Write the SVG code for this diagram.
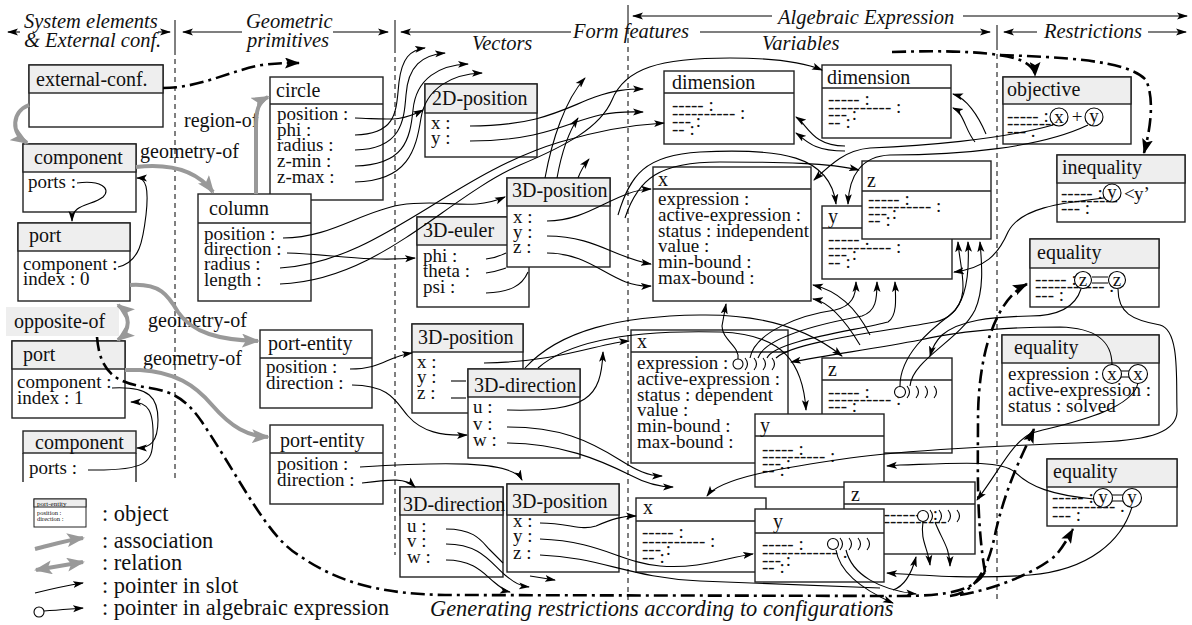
<svg xmlns="http://www.w3.org/2000/svg" width="1192" height="625" viewBox="0 0 1192 625" font-family="'Liberation Serif', 'Times New Roman', serif">
<defs>
<marker id="ah" markerUnits="userSpaceOnUse" markerWidth="11" markerHeight="8" refX="10" refY="4" orient="auto"><path d="M0,0.5 L11,4 L0,7.5 L2.5,4 z" fill="#000"/></marker>
<marker id="gh" markerUnits="userSpaceOnUse" markerWidth="18" markerHeight="14" refX="16" refY="7" orient="auto-start-reverse"><path d="M0,0 L18,7 L0,14 L4,7 z" fill="#999"/></marker>
<marker id="dh" markerUnits="userSpaceOnUse" markerWidth="15" markerHeight="11" refX="14" refY="5.5" orient="auto"><path d="M0,0 L15,5.5 L0,11 L3,5.5 z" fill="#000"/></marker>
</defs>
<style>
.bx{fill:#fff;stroke:#222;stroke-width:1.4}
.hd{fill:#eee;stroke:#222;stroke-width:1.4}
.dv{stroke:#222;stroke-width:1.4}
.ti,.at,.dr,.hi,.lg,.tn,.bt{font-family:'Liberation Serif','Times New Roman',serif;fill:#111}
.ti{font-size:20px}
.at{font-size:19px}
.dr{font-size:19px}
.hi{font-size:20.5px;font-style:italic}
.bt{font-size:22.4px;font-style:italic}
.lg{font-size:22.4px}
.mid{text-anchor:middle}
.c{fill:none;stroke:#000;stroke-width:1.1;marker-end:url(#ah)}
.s{fill:none;stroke:#000;stroke-width:1.1}
.g{fill:none;stroke:#999;stroke-width:4;marker-end:url(#gh)}
.dd{fill:none;stroke:#000;stroke-width:2.6;stroke-dasharray:14 5 3 5}
.dda{fill:none;stroke:#000;stroke-width:2.6;stroke-dasharray:14 5 3 5;marker-end:url(#dh)}
.vl{stroke:#000;stroke-width:1;stroke-dasharray:5 4}
.vs{stroke:#000;stroke-width:1}
.ha{stroke:#000;stroke-width:1.1;marker-end:url(#ah)}
.ci{fill:#fff;stroke:#000;stroke-width:1.1}
.ar{fill:none;stroke:#000;stroke-width:1.1}
</style>

<g id="headers">
<line class="vs" x1="175" y1="20" x2="175" y2="50"/><line class="vl" x1="175" y1="50" x2="175" y2="482"/>
<line class="vs" x1="395" y1="20" x2="395" y2="48"/><line class="vl" x1="395" y1="48" x2="395" y2="555"/>
<line class="vs" x1="628" y1="5" x2="628" y2="20"/><line class="vl" x1="628" y1="20" x2="628" y2="600"/>
<line class="vs" x1="997" y1="25" x2="997" y2="45"/><line class="vl" x1="997" y1="45" x2="997" y2="600"/>
<text class="hi" x="24" y="28">System elements</text>
<text class="hi" x="24" y="47">&amp; External conf.</text>
<line class="ha" x1="20" y1="32" x2="8" y2="32"/>
<line class="ha" x1="158" y1="32" x2="170" y2="32"/>
<text class="hi" x="246" y="28">Geometric</text>
<text class="hi" x="247" y="47">primitives</text>
<line class="ha" x1="242" y1="32" x2="183" y2="32"/>
<line class="ha" x1="333" y1="32" x2="388" y2="32"/>
<line class="ha" x1="571" y1="32" x2="401" y2="32"/>
<text class="hi" x="573" y="38">Form features</text>
<line class="ha" x1="700" y1="32" x2="990" y2="32"/>
<text class="hi" x="472" y="50">Vectors</text>
<text class="hi" x="762" y="50">Variables</text>
<line class="ha" x1="772" y1="16" x2="633" y2="16"/>
<text class="hi" x="778" y="24">Algebraic Expression</text>
<line class="ha" x1="963" y1="16" x2="1187" y2="16"/>
<line class="ha" x1="1037" y1="32" x2="1004" y2="32"/>
<text class="hi" x="1044" y="38">Restrictions</text>
<line class="ha" x1="1148" y1="32" x2="1186" y2="32"/>
<text class="bt" x="430" y="616">Generating restrictions according to configurations</text>
</g>

<g id="legend">
<rect class="bx" x="34" y="499" width="52" height="28" style="stroke-width:1"/>
<rect class="hd" x="34" y="499" width="52" height="8" style="stroke-width:1"/>
<text class="tn" x="37" y="506" style="font-size:7px">port-entity</text>
<text class="tn" x="37" y="515" style="font-size:6.5px">position :</text>
<text class="tn" x="37" y="521" style="font-size:6.5px">direction :</text>
<text class="lg" x="102" y="521">: object</text>
<text class="lg" x="102" y="548">: association</text>
<text class="lg" x="102" y="570">: relation</text>
<text class="lg" x="102" y="593">: pointer in slot</text>
<text class="lg" x="102" y="615">: pointer in algebraic expression</text>
<path class="g" d="M35,549 C55,544 68,540 83,538"/>
<path class="g" d="M36,570 L83,562" style="marker-start:url(#gh)"/>
<path class="c" d="M35,593 C55,588 70,585 83,583"/>
<circle class="ci" cx="39" cy="612" r="5"/>
<path class="c" d="M44,611 C60,610 70,609 83,608"/>
</g>

<g id="external-conf"><rect class="bx" x="29" y="65" width="134" height="62"/><rect class="hd" x="29" y="65" width="134" height="28"/><text class="ti" x="36" y="86">external-conf.</text></g>
<g id="component-1"><rect class="bx" x="23" y="144" width="113" height="68"/><rect class="hd" x="23" y="144" width="113" height="28"/><text class="ti" x="34" y="164">component</text><text class="at" x="28" y="188">ports :</text></g>
<g id="port-0"><rect class="bx" x="18" y="223" width="112" height="78"/><rect class="hd" x="18" y="223" width="112" height="28"/><text class="ti" x="29" y="242">port</text><text class="at" x="23" y="270">component :</text><text class="at" x="23" y="285">index : 0</text></g>
<g id="opposite-of"><rect x="6" y="307" width="113" height="29" fill="#eee"/><text class="ti" x="14" y="328">opposite-of</text></g>
<g id="port-1"><rect class="bx" x="12" y="341" width="113" height="77"/><rect class="hd" x="12" y="341" width="113" height="28"/><text class="ti" x="23" y="361">port</text><text class="at" x="17" y="388">component :</text><text class="at" x="17" y="404">index : 1</text></g>
<g id="component-2"><rect x="23" y="453" width="113" height="29" fill="#fff"/><path class="dv" d="M23,453 V482 M136,453 V482"/><rect class="hd" x="23" y="431" width="113" height="22"/><text class="ti" x="35" y="449">component</text><text class="at" x="29" y="474">ports :</text></g>

<g id="circle"><rect class="bx" x="270" y="77" width="113" height="123"/><line class="dv" x1="270" y1="104" x2="383" y2="104"/><text class="ti" x="276" y="97">circle</text><text class="at" x="277" y="120">position :</text><text class="at" x="277" y="136">phi :</text><text class="at" x="277" y="151">radius :</text><text class="at" x="277" y="167">z-min :</text><text class="at" x="277" y="183">z-max :</text></g>
<g id="column"><rect class="bx" x="198" y="194" width="113" height="107"/><line class="dv" x1="198" y1="223" x2="311" y2="223"/><text class="ti" x="209" y="215">column</text><text class="at" x="204" y="240">position :</text><text class="at" x="204" y="255">direction :</text><text class="at" x="204" y="270">radius :</text><text class="at" x="204" y="286">length :</text></g>
<g id="position-2d"><rect class="bx" x="425" y="84" width="112" height="73"/><rect class="hd" x="425" y="84" width="112" height="29"/><text class="ti" x="432" y="105">2D-position</text><text class="at" x="431" y="129">x :</text><text class="at" x="431" y="144">y :</text></g>
<g id="euler-3d"><rect class="bx" x="417" y="217" width="112" height="90"/><rect class="hd" x="417" y="217" width="112" height="28"/><text class="ti" x="423" y="237">3D-euler</text><text class="at" x="423" y="262">phi :</text><text class="at" x="423" y="277">theta :</text><text class="at" x="423" y="293">psi :</text></g>
<g id="position-3d-1"><rect class="bx" x="507" y="178" width="103" height="89"/><rect class="hd" x="507" y="178" width="103" height="28"/><text class="ti" x="512" y="197">3D-position</text><text class="at" x="513" y="223">x :</text><text class="at" x="513" y="238">y :</text><text class="at" x="513" y="253">z :</text></g>
<g id="port-entity-1"><rect class="bx" x="260" y="330" width="112" height="78"/><line class="dv" x1="260" y1="358" x2="372" y2="358"/><text class="ti" x="268" y="350">port-entity</text><text class="at" x="266" y="373">position :</text><text class="at" x="266" y="389">direction :</text></g>
<g id="position-3d-2"><rect class="bx" x="412" y="324" width="111" height="89"/><rect class="hd" x="412" y="324" width="111" height="28"/><text class="ti" x="418" y="344">3D-position</text><text class="at" x="417" y="368">x :</text><text class="at" x="417" y="383">y :</text><text class="at" x="417" y="399">z :</text></g>
<g id="direction-3d-1"><rect class="bx" x="468" y="369" width="112" height="89"/><rect class="hd" x="468" y="369" width="112" height="28"/><text class="ti" x="474" y="392">3D-direction</text><text class="at" x="473" y="413">u :</text><text class="at" x="473" y="430">v :</text><text class="at" x="473" y="446">w :</text></g>
<g id="port-entity-2"><rect class="bx" x="270" y="425" width="113" height="79"/><line class="dv" x1="270" y1="453" x2="383" y2="453"/><text class="ti" x="280" y="447">port-entity</text><text class="at" x="277" y="470">position :</text><text class="at" x="277" y="486">direction :</text></g>
<g id="direction-3d-2"><rect class="bx" x="400" y="487" width="103" height="90"/><rect class="hd" x="400" y="487" width="103" height="28"/><text class="ti" x="403" y="511">3D-direction</text><text class="at" x="407" y="532">u :</text><text class="at" x="407" y="547">v :</text><text class="at" x="407" y="563">w :</text></g>
<g id="position-3d-3"><rect class="bx" x="507" y="484" width="112" height="88"/><rect class="hd" x="507" y="484" width="112" height="31"/><text class="ti" x="512" y="508">3D-position</text><text class="at" x="513" y="527">x :</text><text class="at" x="513" y="542">y :</text><text class="at" x="513" y="559">z :</text></g>

<g id="dimension-1"><rect class="bx" x="664" y="71" width="130" height="73"/><line class="dv" x1="664" y1="93" x2="794" y2="93"/><text class="ti" x="672" y="89">dimension</text><text class="dr" x="672" y="111">----- :</text><text class="dr" x="672" y="119">---------- :</text><text class="dr" x="672" y="127">--- :</text><text class="dr" x="672" y="135">-- :</text></g>
<g id="dimension-2"><rect class="bx" x="822" y="65" width="129" height="73"/><line class="dv" x1="822" y1="88" x2="951" y2="88"/><text class="ti" x="827" y="84">dimension</text><text class="dr" x="828" y="105">----- :</text><text class="dr" x="828" y="113">---------- :</text><text class="dr" x="828" y="120">--- :</text><text class="dr" x="828" y="128">-- :</text></g>
<g id="objective"><rect class="bx" x="1003" y="77" width="128" height="67"/><rect class="hd" x="1003" y="77" width="128" height="27"/><text class="ti" x="1007" y="96">objective</text><text class="dr" x="1007" y="122">----- :</text><text class="dr" x="1007" y="129">---------</text><text class="dr" x="1007" y="137">--- .</text><circle class="ci" cx="1059" cy="117" r="9"/><text class="at mid" x="1059" y="123">x</text><text class="at mid" x="1077" y="123">+</text><circle class="ci" cx="1094" cy="117" r="9"/><text class="at mid" x="1094" y="122">y</text></g>
<g id="inequality"><rect class="bx" x="1057" y="155" width="128" height="67"/><rect class="hd" x="1057" y="155" width="128" height="28"/><text class="ti" x="1062" y="174">inequality</text><text class="dr" x="1061" y="199">----- :</text><text class="dr" x="1061" y="206">---------</text><text class="dr" x="1061" y="214">--- :</text><circle class="ci" cx="1112" cy="193" r="9"/><text class="at mid" x="1112" y="198">y</text><text class="at" x="1124" y="200">&lt;</text><text class="at" x="1134" y="200">y’</text></g>
<g id="x-1"><rect class="bx" x="653" y="167" width="158" height="134"/><line class="dv" x1="653" y1="189" x2="811" y2="189"/><text class="ti" x="658" y="186">x</text><text class="at" x="658" y="205">expression :</text><text class="at" x="658" y="221">active-expression :</text><text class="at" x="658" y="237">status : independent</text><text class="at" x="658" y="252">value :</text><text class="at" x="658" y="268">min-bound :</text><text class="at" x="658" y="284">max-bound :</text></g>
<g id="y-1"><rect class="bx" x="822" y="206" width="130" height="73"/><line class="dv" x1="822" y1="228" x2="952" y2="228"/><text class="ti" x="828" y="223">y</text><text class="dr" x="828" y="245">----- :</text><text class="dr" x="828" y="253">---------- :</text><text class="dr" x="828" y="260">--- :</text><text class="dr" x="828" y="268">-- :</text></g>
<g id="z-1"><rect class="bx" x="862" y="161" width="129" height="78"/><line class="dv" x1="862" y1="191" x2="991" y2="191"/><text class="ti" x="867" y="187">z</text><text class="dr" x="868" y="205">----- :</text><text class="dr" x="868" y="212">---------- :</text><text class="dr" x="868" y="219">--- :</text><text class="dr" x="868" y="226">-- :</text></g>
<g id="x-2"><rect class="bx" x="631" y="330" width="157" height="133"/><line class="dv" x1="631" y1="352" x2="788" y2="352"/><text class="ti" x="637" y="348">x</text><text class="at" x="637" y="369">expression :</text><text class="at" x="637" y="385">active-expression :</text><text class="at" x="637" y="401">status : dependent</text><text class="at" x="637" y="416">value :</text><text class="at" x="637" y="432">min-bound :</text><text class="at" x="637" y="448">max-bound :</text><circle class="ci" cx="738" cy="364" r="5"/><path class="ar" d="M745,358 q5,6 0,12 M754,358 q5,6 0,12 M763,358 q5,6 0,12 M772,358 q5,6 0,12"/></g>
<g id="z-2"><rect class="bx" x="822" y="358" width="130" height="95"/><line class="dv" x1="822" y1="380" x2="952" y2="380"/><text class="ti" x="828" y="376">z</text><text class="dr" x="828" y="398">----- :</text><text class="dr" x="828" y="405">---------- :</text><text class="dr" x="828" y="412">--- :</text><circle class="ci" cx="900" cy="392" r="5.5"/><path class="ar" d="M907,386 q5,6 0,12 M916,386 q5,6 0,12 M925,386 q5,6 0,12 M934,386 q5,6 0,12"/></g>
<g id="y-2"><rect class="bx" x="755" y="414" width="129" height="73"/><line class="dv" x1="755" y1="436" x2="884" y2="436"/><text class="ti" x="760" y="432">y</text><text class="dr" x="762" y="455">----- :</text><text class="dr" x="762" y="462">---------- :</text><text class="dr" x="762" y="469">--- :</text><text class="dr" x="762" y="476">-- :</text></g>
<g id="z-3"><rect class="bx" x="844" y="482" width="131" height="72"/><line class="dv" x1="844" y1="504" x2="975" y2="504"/><text class="ti" x="851" y="501">z</text><text class="dr" x="852" y="520">------------ :</text><text class="dr" x="852" y="527">---------------</text><text class="dr" x="852" y="534">--- :</text><circle class="ci" cx="923" cy="516" r="5.5"/><path class="ar" d="M930,510 q5,6 0,12 M939,510 q5,6 0,12 M948,510 q5,6 0,12 M957,510 q5,6 0,12"/></g>
<g id="x-3"><rect class="bx" x="636" y="498" width="130" height="74"/><line class="dv" x1="636" y1="521" x2="766" y2="521"/><text class="ti" x="643" y="514">x</text><text class="dr" x="642" y="538">----- :</text><text class="dr" x="642" y="547">---------- :</text><text class="dr" x="642" y="555">--- :</text><text class="dr" x="642" y="563">-- :</text></g>
<g id="y-3"><rect class="bx" x="755" y="509" width="129" height="73"/><line class="dv" x1="755" y1="533" x2="884" y2="533"/><text class="ti" x="773" y="528">y</text><text class="dr" x="762" y="550">----- :</text><text class="dr" x="762" y="558">------------ .</text><text class="dr" x="762" y="566">--- :</text><text class="dr" x="762" y="573">-- :</text><circle class="ci" cx="833" cy="544" r="5.5"/><path class="ar" d="M840,538 q5,6 0,12 M849,538 q5,6 0,12 M858,538 q5,6 0,12 M867,538 q5,6 0,12"/></g>
<g id="equality-1"><rect class="bx" x="1030" y="239" width="129" height="68"/><rect class="hd" x="1030" y="239" width="129" height="29"/><text class="ti" x="1037" y="259">equality</text><text class="dr" x="1035" y="285">----- :</text><text class="dr" x="1035" y="292">----------- .</text><text class="dr" x="1035" y="301">--- :</text><circle class="ci" cx="1083" cy="280" r="8.5"/><text class="at mid" x="1083" y="286">z</text><path class="ar" d="M1092,277 H1108 M1092,283 H1108"/><circle class="ci" cx="1117" cy="280" r="8.5"/><text class="at mid" x="1117" y="286">z</text></g>
<g id="equality-2"><rect class="bx" x="1002" y="335" width="157" height="90"/><rect class="hd" x="1002" y="335" width="157" height="28"/><text class="ti" x="1014" y="354">equality</text><text class="at" x="1008" y="380">expression :</text><text class="at" x="1008" y="396">active-expression :</text><text class="at" x="1008" y="412">status : solved</text><circle class="ci" cx="1112" cy="374" r="9.5"/><text class="at mid" x="1112" y="380">x</text><path class="ar" d="M1121,371 H1129 M1121,377 H1129"/><circle class="ci" cx="1138" cy="374" r="9.5"/><text class="at mid" x="1138" y="380">x</text></g>
<g id="equality-3"><rect class="bx" x="1047" y="459" width="130" height="67"/><rect class="hd" x="1047" y="459" width="130" height="28"/><text class="ti" x="1053" y="478">equality</text><text class="dr" x="1052" y="503">----- :</text><text class="dr" x="1052" y="512">---------- .</text><text class="dr" x="1052" y="521">--- :</text><circle class="ci" cx="1103" cy="498" r="9.5"/><text class="at mid" x="1103" y="503">y</text><path class="ar" d="M1112,495 H1123 M1112,501 H1123"/><circle class="ci" cx="1132" cy="498" r="9.5"/><text class="at mid" x="1132" y="503">y</text></g>

<g id="connectors">
<text class="ti" x="140" y="158">geometry-of</text>
<text class="ti" x="184" y="127">region-of</text>
<text class="ti" x="148" y="327">geometry-of</text>
<text class="ti" x="143" y="365">geometry-of</text>
<path class="g" d="M29,105 C12,112 10,132 27,143"/>
<path class="g" d="M136,167 C172,163 198,172 213,192"/>
<path class="g" d="M256,194 L256,128 C256,110 258,102 268,97"/>
<path class="g" d="M130,285 C160,283 168,295 178,312 C192,333 220,340 258,341"/>
<path class="g" d="M125,370 L140,370 C175,372 195,385 212,405 C232,428 248,436 268,437"/>
<path class="g" d="M118,305 C131,315 131,330 118,340" style="marker-start:url(#gh)"/>

<path class="c" d="M77,183 C100,180 112,188 103,197 C92,206 72,203 72,221"/>
<path class="c" d="M118,267 C140,262 143,240 146,215 C149,188 146,178 137,178"/>
<path class="c" d="M112,388 C150,386 158,398 158,420 C158,442 150,448 137,448"/>
<path class="c" d="M88,470 C148,471 152,462 153,440 C154,410 148,402 131,402"/>
<path class="c" d="M355,118 C390,119 400,122 423,110"/>
<path class="c" d="M355,135 C398,134 396,110 399,82 C402,58 410,50 425,48"/>
<path class="c" d="M355,150 C402,149 404,120 406,95 C408,66 422,55 445,53"/>
<path class="c" d="M355,166 C404,165 410,140 413,110 C416,78 440,65 468,64"/>
<path class="c" d="M355,182 C408,181 416,150 421,118 C426,88 452,74 482,73"/>
<path class="c" d="M470,126 C540,126 565,108 595,97 C615,90 628,89 643,89"/>
<path class="c" d="M470,141 C545,141 570,121 600,115 C620,111 630,112 643,112"/>
<path class="c" d="M283,238 C330,238 360,212 400,205 C445,198 470,212 505,197"/>
<path class="c" d="M287,253 C330,254 365,262 415,258"/>
<path class="c" d="M280,268 C380,262 450,175 560,142 C600,130 630,125 664,123"/>
<path class="c" d="M280,284 C380,280 445,198 520,165 C565,146 600,128 612,100 C625,68 660,58 730,58 C775,58 805,63 822,70"/>
<path class="c" d="M545,178 C552,140 565,100 585,78"/>
<path class="c" d="M557,178 C562,150 570,130 578,118"/>
<path class="c" d="M578,178 C581,170 584,165 589,159"/>
<path class="c" d="M547,221 C590,221 615,190 651,189"/>
<path class="c" d="M547,236 C595,236 615,258 651,264"/>
<path class="c" d="M547,253 C595,253 612,288 651,286"/>
<path class="s" d="M486,259 C495,258 500,256 506,253"/>
<path class="s" d="M486,273 C495,272 500,270 506,268"/>
<path class="s" d="M486,293 C510,292 522,286 528,272"/>
<path class="c" d="M350,369 C382,369 386,357 412,353"/>
<path class="c" d="M352,385 C390,385 396,402 408,416 C422,432 442,436 467,435"/>
<path class="c" d="M484,363 C560,362 600,343 629,341"/>
<path class="s" d="M451,381 L466,381"/>
<path class="s" d="M451,398 L466,398"/>
<path class="c" d="M525,368 C560,330 620,316 700,315 C765,314 810,330 842,356"/>
<path class="c" d="M538,368 C572,338 640,330 720,332 C785,334 803,365 806,410"/>
<path class="c" d="M507,410 C588,412 601,398 603,352"/>
<path class="c" d="M507,427 C560,427 588,440 620,460 C636,470 648,476 662,476"/>
<path class="c" d="M507,443 C560,443 600,460 630,475 C645,483 658,487 673,487"/>
<path class="c" d="M360,467 C440,462 512,460 522,480"/>
<path class="c" d="M362,483 C392,479 406,478 415,487"/>
<path class="s" d="M446,529 C476,529 482,542 490,550 C496,556 500,560 503,563"/>
<path class="c" d="M446,544 C480,544 490,562 505,575 C515,583 520,586 529,587"/>
<path class="c" d="M446,560 C474,560 484,574 494,582 C501,588 505,591 510,592"/>
<path class="c" d="M530,576 L555,580"/>
<path class="c" d="M540,523 C570,523 580,531 596,526 C612,519 622,516 636,516"/>
<path class="c" d="M540,539 C600,541 622,563 660,566 C700,569 725,558 753,554"/>
<path class="s" d="M540,555 C600,557 630,578 700,581 C780,584 830,586 880,588"/>
<path class="c" d="M738,359 C740,346 722,340 722,326 L726,304"/>
<path class="c" d="M750,358 C755,332 800,315 835,310 C852,306 856,296 856,282"/>
<path class="c" d="M758,358 C765,336 830,322 862,316 C876,311 877,300 877,282"/>
<path class="c" d="M767,358 C775,340 860,330 888,322 C897,316 896,300 895,282"/>
<path class="c" d="M776,358 C792,342 880,332 935,322 C965,316 970,280 968,242"/>
<path class="c" d="M900,386 C900,355 930,330 950,315 C972,298 960,270 958,242"/>
<path class="c" d="M910,386 C912,360 960,340 975,310 C984,290 982,265 980,242"/>
<path class="c" d="M870,335 C855,305 835,290 813,285"/>
<path class="c" d="M860,345 C845,320 830,302 813,299"/>
<path class="c" d="M845,146 C812,146 808,125 796,117"/>
<path class="c" d="M845,151 C812,151 806,140 796,133"/>
<path class="c" d="M986,134 C978,115 966,98 953,94"/>
<path class="c" d="M975,142 C965,130 964,113 953,108"/>
<path class="c" d="M1053,125 C1000,140 920,146 870,148 C845,150 830,165 814,180"/>
<path class="c" d="M1088,125 C1040,148 960,155 890,155 C862,156 849,175 848,204"/>
<path class="c" d="M618,215 C630,175 645,155 700,152 C780,148 830,155 836,204"/>
<path class="c" d="M625,218 C638,178 660,162 720,162 C780,162 830,163 859,170"/>
<path class="c" d="M1104,198 C1060,203 1020,208 1008,232 C998,255 985,268 954,272"/>
<path class="c" d="M1081,289 C1075,308 1058,316 1030,316 C990,317 960,320 942,335 C936,341 932,348 930,356"/>
<path class="c" d="M1118,289 C1118,313 1132,320 1160,325 C1180,330 1176,380 1177,410 C1178,432 1150,440 1100,442 C1000,446 905,450 850,458 C780,468 720,478 707,496"/>
<path class="c" d="M1112,365 C1112,340 1095,328 1060,327 C1000,327 955,332 920,340 C878,348 835,354 791,362"/>
<path class="c" d="M1138,383 C1132,412 1060,425 1032,433 C1012,442 1000,470 977,500"/>
<path class="c" d="M1094,499 C1052,495 1030,487 1015,472 C1000,460 960,463 900,465 L887,466"/>
<path class="c" d="M1132,507 C1122,540 1090,570 1030,575 C980,579 930,576 887,573"/>
<path class="c" d="M923,522 C920,540 928,548 930,565"/>
<path class="c" d="M935,522 C942,540 950,548 950,566"/>
<path class="c" d="M893,590 C905,586 912,572 916,557"/>
<path class="c" d="M836,550 C840,575 868,592 893,603"/>
<path class="c" d="M846,550 C852,575 880,590 916,594"/>

<path class="dda" d="M163,88 C200,88 232,70 262,65 C276,63 286,63 299,63"/>
<path class="dda" d="M892,52 C950,50 1000,52 1020,60 C1030,64 1035,70 1035,76"/>
<path class="dda" d="M1000,55 C1060,57 1128,60 1146,80 C1155,100 1150,130 1144,153"/>
<path class="dd" d="M97,337 C100,375 118,383 150,388 C176,392 188,402 202,422 C242,482 268,538 300,556 C340,584 385,594 445,595 L900,596 C950,596 975,590 985,572"/>
<path class="dda" d="M950,596 C980,592 990,560 996,530 C1008,480 1024,452 1034,429"/>
<path class="dda" d="M960,595 C1000,588 1040,570 1056,555 C1063,547 1068,538 1073,529"/>
<path class="dda" d="M985,572 C976,520 978,460 978,420 C978,355 995,300 1027,284"/>
</g>
</svg>
